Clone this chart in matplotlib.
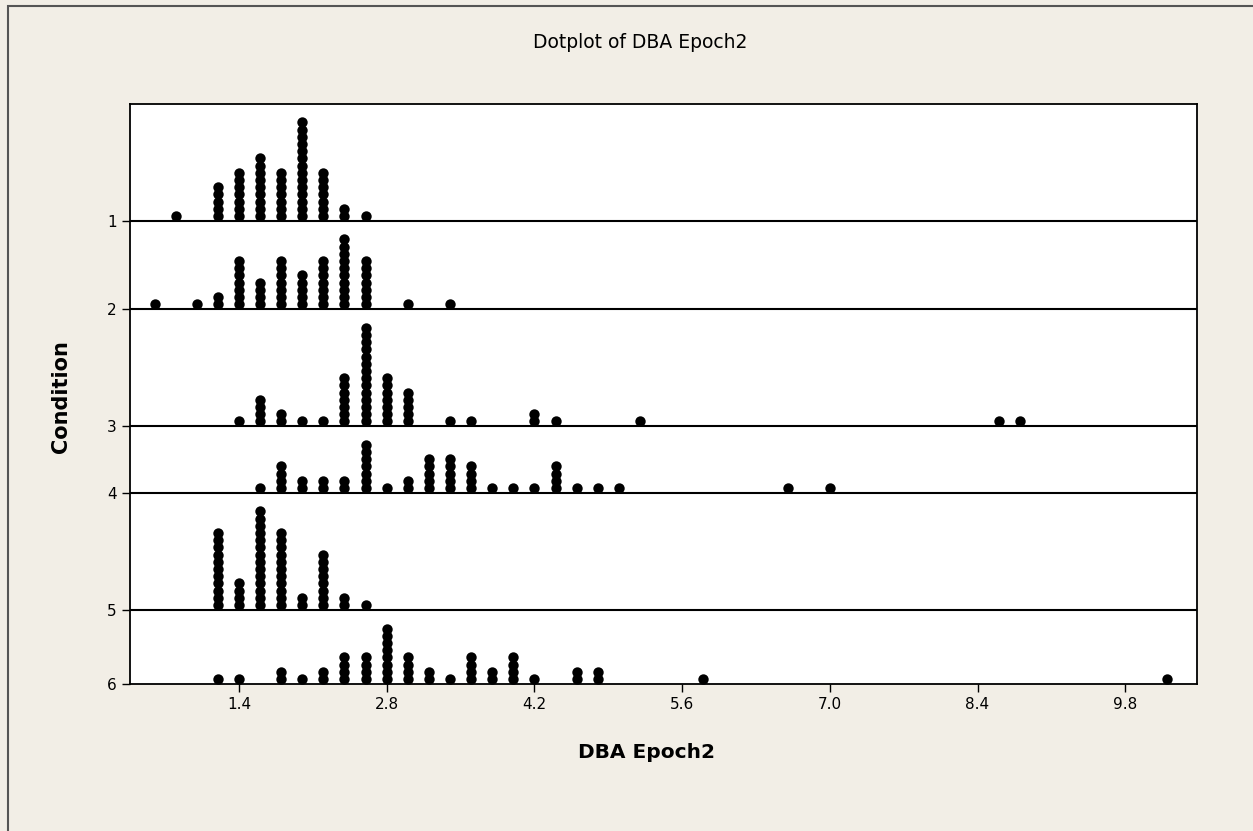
import matplotlib
matplotlib.use('Agg')
import matplotlib.pyplot as plt
from matplotlib.patches import Rectangle

# dotplot data: bin centres and stacked dot counts per condition
cond_names = ['1', '2', '3', '4', '5', '6']

c1_x = [0.8, 1.2, 1.4, 1.6, 1.8, 2.0, 2.2, 2.4, 2.6]
c1_n = [1, 5, 7, 9, 7, 14, 7, 2, 1]

c2_x = [0.6, 1.0, 1.2, 1.4, 1.6, 1.8, 2.0, 2.2, 2.4, 2.6, 3.0, 3.4]
c2_n = [1, 1, 2, 7, 4, 7, 5, 7, 10, 7, 1, 1]

c3_x = [1.4, 1.6, 1.8, 2.0, 2.2, 2.4, 2.6, 2.8, 3.0, 3.4, 3.6, 4.2, 4.4, 5.2, 8.6, 8.8]
c3_n = [1, 4, 2, 1, 1, 7, 14, 7, 5, 1, 1, 2, 1, 1, 1, 1]

c4_x = [1.6, 1.8, 2.0, 2.2, 2.4, 2.6, 2.8, 3.0, 3.2, 3.4, 3.6, 3.8, 4.0, 4.2,
        4.4, 4.6, 4.8, 5.0, 6.6, 7.0]
c4_n = [1, 4, 2, 2, 2, 7, 1, 2, 5, 5, 4, 1, 1, 1, 4, 1, 1, 1, 1, 1]

c5_x = [1.2, 1.4, 1.6, 1.8, 2.0, 2.2, 2.4, 2.6]
c5_n = [11, 4, 14, 11, 2, 8, 2, 1]

c6_x = [1.2, 1.4, 1.8, 2.0, 2.2, 2.4, 2.6, 2.8, 3.0, 3.2, 3.4, 3.6, 3.8, 4.0,
        4.2, 4.6, 4.8, 5.8, 10.2]
c6_n = [1, 1, 2, 1, 2, 4, 4, 8, 4, 2, 1, 4, 2, 4, 1, 2, 2, 1, 1]

x_ticks = [1.4, 2.8, 4.2, 5.6, 7.0, 8.4, 9.8]

groups = [(c1_x, c1_n), (c2_x, c2_n), (c3_x, c3_n),
          (c4_x, c4_n), (c5_x, c5_n), (c6_x, c6_n)]

bg = '#f2eee6'
fig = plt.figure(figsize=(12.53, 8.31), dpi=100, facecolor=bg)

# window frame line on the left / top
fig.patches.append(Rectangle((8 / 1253, -0.01), 1.2, 1.01 - 6 / 831,
                             transform=fig.transFigure, fill=False,
                             edgecolor='#555555', linewidth=1.5))

ax = fig.add_axes([130 / 1253, 1 - 684 / 831, (1197 - 130) / 1253, (684 - 104) / 831])
ax.set_facecolor('white')

# stack rows from the bottom (condition 6) upward, one unit per dot
heights = [max(n) + 2.25 for _, n in groups]
bases = []
y = 0
for h in reversed(heights):
    bases.insert(0, y)
    y += h
top = y

for (xs, ns), base in zip(groups, bases):
    for x, n in zip(xs, ns):
        for k in range(n):
            ax.scatter(x, base + 0.7 + k, s=56, color='black', linewidths=0, zorder=3)
    if base > 0:
        ax.axhline(base, color='black', lw=1.5, zorder=2)

ax.set_xlim(0.367, 10.48)
ax.set_ylim(0, top)
ax.set_xticks(x_ticks)
ax.set_xticklabels(['%.1f' % t for t in x_ticks])
ax.set_yticks(bases)
ax.set_yticklabels(cond_names)
ax.tick_params(direction='out', length=6, width=1, labelsize=11, colors='black')
for sp in ax.spines.values():
    sp.set_linewidth(1.3)

ax.set_xlabel('DBA Epoch2', fontsize=14.5, fontweight='bold')
ax.xaxis.set_label_coords(0.484, -0.102)
ax.set_ylabel('Condition', fontsize=15, fontweight='bold')
ax.yaxis.set_label_coords(-0.055, 0.495)
fig.text(640 / 1253, 1 - 42 / 831, 'Dotplot of DBA Epoch2', ha='center', va='center',
         fontsize=13.5)

fig.savefig('out.png', dpi=100, facecolor=bg)
